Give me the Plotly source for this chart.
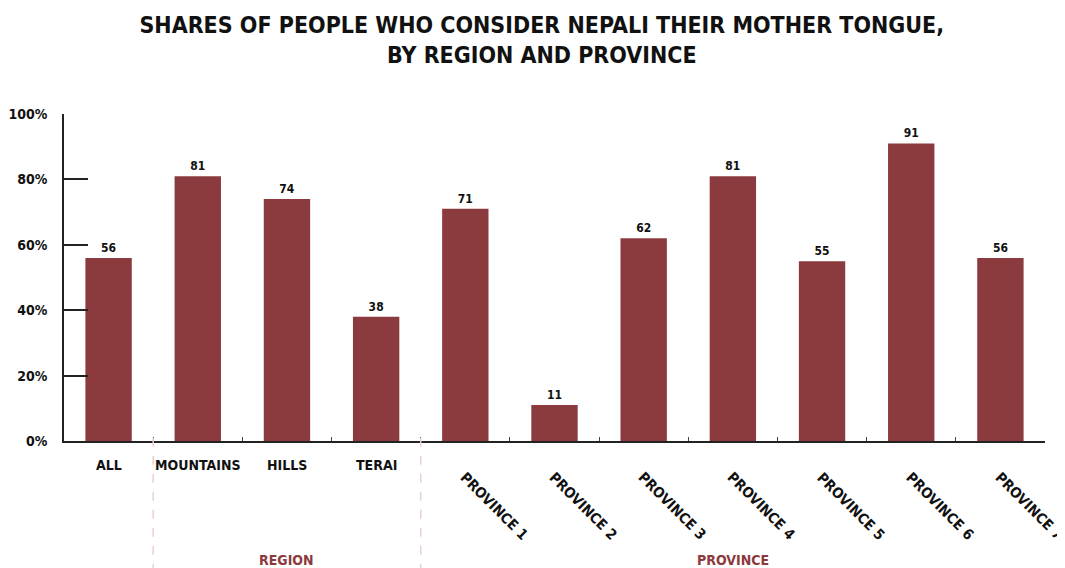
import plotly.graph_objects as go

categories = ["ALL", "MOUNTAINS", "HILLS", "TERAI", "PROVINCE 1", "PROVINCE 2",
              "PROVINCE 3", "PROVINCE 4", "PROVINCE 5", "PROVINCE 6", "PROVINCE 7"]
values = [56, 81, 74, 38, 71, 11, 62, 81, 55, 91, 56]
rotated = [False, False, False, False, True, True, True, True, True, True, True]
group_labels = ["REGION", "PROVINCE"]
group_centers = ["HILLS", "PROVINCE 4"]
separators = [0.5, 3.5]
y_ticks = [0, 20, 40, 60, 80, 100]
y_tick_labels = ["0%", "20%", "40%", "60%", "80%", "100%"]

BAR = "#8B3A3E"
FONT = "DejaVu Sans Condensed, Liberation Sans Narrow, Arial Narrow, sans-serif"

fig = go.Figure()
fig.add_trace(go.Bar(
    x=categories, y=values, marker_color=BAR, marker_line_width=0,
    text=[str(v) for v in values], textposition="outside",
    textfont=dict(family=FONT, size=12, color="#111111", weight="bold"),
    cliponaxis=False, hoverinfo="skip",
))

annotations = []
for c, r in zip(categories, rotated):
    if r:
        annotations.append(dict(x=c, xref="x", y=-0.078, yref="paper", text=c,
                                showarrow=False, textangle=45, xanchor="left",
                                yanchor="top", xshift=-11,
                                font=dict(family=FONT, size=14.5, color="#111111", weight="bold")))
    else:
        annotations.append(dict(x=c, xref="x", y=-0.073, yref="paper", text=c,
                                showarrow=False, xanchor="center", yanchor="middle",
                                font=dict(family=FONT, size=14, color="#111111", weight="bold")))
for g, c in zip(group_labels, group_centers):
    annotations.append(dict(x=c, xref="x", y=-0.364, yref="paper", text=g,
                            showarrow=False, xanchor="center", yanchor="middle",
                            font=dict(family=FONT, size=14, color=BAR, weight="bold")))

shapes = []
for s in separators:
    shapes.append(dict(type="line", xref="x", yref="paper", x0=s, x1=s, y0=0.01, y1=-0.42,
                       line=dict(color="#EAD0D0", width=1.5, dash="dash")))

fig.update_layout(
    width=1057, height=560,
    margin=dict(l=56, r=20, t=106, b=127, autoexpand=False),
    plot_bgcolor="white", paper_bgcolor="white",
    bargap=0.48, showlegend=False,
    title=dict(text="SHARES OF PEOPLE WHO CONSIDER NEPALI THEIR MOTHER TONGUE,<br>BY REGION AND PROVINCE",
               x=0.505, xanchor="center", y=0.955, yanchor="top", xref="container", yref="container",
               font=dict(family=FONT, size=23, color="#111111", weight="bold")),
    annotations=annotations, shapes=shapes,
    xaxis=dict(range=[-0.5, len(categories) - 0.5], autorange=False,
               showticklabels=False, showline=True, linecolor="#222222", linewidth=1.5,
               ticks="inside", tickson="boundaries", ticklen=4, tickcolor="#444444",
               showgrid=False, zeroline=False, automargin=False),
    yaxis=dict(range=[0, 100], tickvals=y_ticks, ticktext=y_tick_labels,
               showline=True, linecolor="#222222", linewidth=1.5,
               ticks="inside", ticklen=24, tickwidth=1.5, tickcolor="#222222",
               showgrid=False, zeroline=False, ticklabelstandoff=12, automargin=False,
               tickfont=dict(family=FONT, size=14, color="#111111", weight="bold")),
)

fig.write_html("out.html")
